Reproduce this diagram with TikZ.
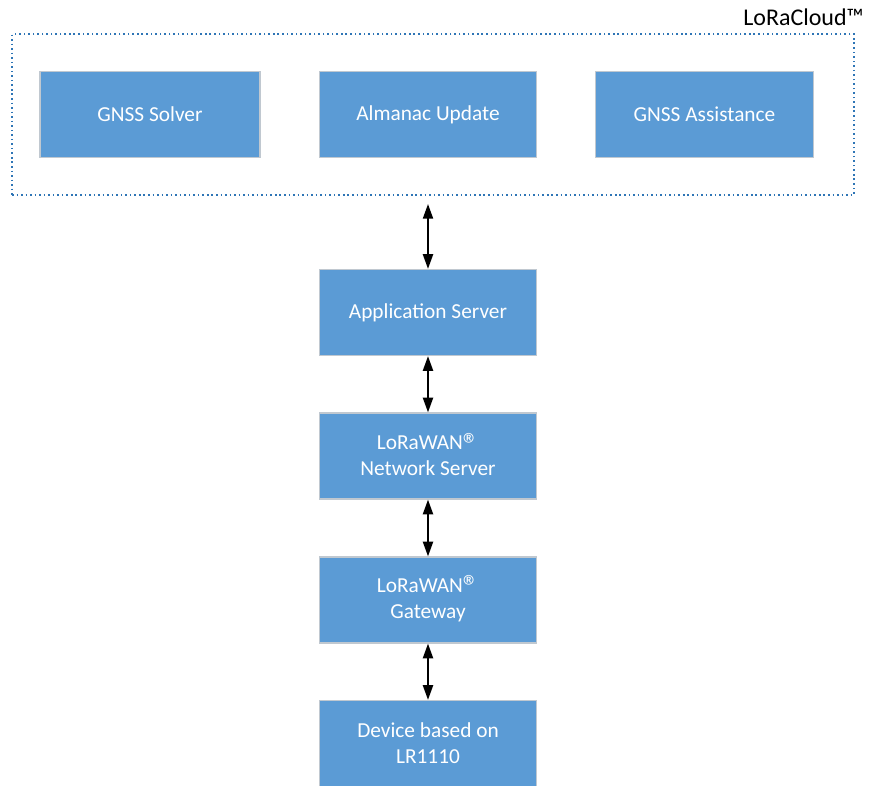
\documentclass[tikz,border=0pt]{standalone}
\usepackage{fontspec}
\usepackage{graphicx}
\setmainfont{Carlito}
\usetikzlibrary{arrows.meta}
\definecolor{boxblue}{HTML}{5B9BD5}
\definecolor{boxedge}{HTML}{C0C8D0}
\definecolor{framblue}{HTML}{2E75B6}
\newcommand{\regmark}{\smash{\raisebox{-4pt}{\scalebox{1.5}{®}}}}
\tikzset{
  svc/.style={draw=boxedge, line width=0.9pt, fill=boxblue, text=white,
    font=\fontsize{16}{19.5}\selectfont, align=center, inner sep=0pt,
    minimum width=163pt, minimum height=64.5pt},
  link/.style={line width=1.5pt, {Triangle[width=7.5pt,length=11pt]}-{Triangle[width=7.5pt,length=11pt]}},
  cloudframe/.style={draw=framblue, line width=1.2pt, dash pattern=on 1.2pt off 2.2pt,
    inner sep=0pt, minimum width=631.5pt, minimum height=120.5pt}
}
\begin{document}
\begin{tikzpicture}[x=0.75pt,y=-0.75pt]
\useasboundingbox (0,0) rectangle (872,786);
\node[cloudframe] (frame) at (433,114.5) {};
\node[anchor=base west, font=\fontsize{18}{22}\selectfont, inner sep=0pt] (title) at (743,25) {LoRaCloud™};
\node[svc, minimum width=165pt] (solver) at (150,114.5) {GNSS Solver};
\node[svc] (almanac) at (428,114.5) {Almanac Update};
\node[svc] (assist) at (704.5,114.5) {GNSS Assistance};
\node[svc] (app) at (428,312.5) {Application Server};
\node[svc] (ns) at (428,456) {LoRaWAN\regmark\\Network Server};
\node[svc] (gw) at (428,600) {LoRaWAN\regmark\\Gateway};
\node[svc] (dev) at (428,743.5) {Device based on\\LR1110};
\coordinate (cloudlink) at (428,204);
\draw[link] (cloudlink) -- (app.north);
\draw[link] (app.south) -- (ns.north);
\draw[link] (ns.south) -- (gw.north);
\draw[link] (gw.south) -- (dev.north);
\end{tikzpicture}
\end{document}
